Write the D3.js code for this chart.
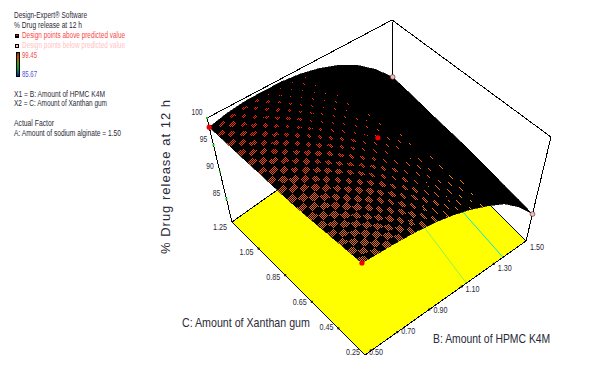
<!DOCTYPE html>
<html>
<head>
<meta charset="utf-8">
<script src="https://cdn.jsdelivr.net/npm/d3@7"></script>
<style>
  html, body { margin: 0; padding: 0; background: #fff; }
  svg { display: block; }
  text { font-family: "Liberation Sans", sans-serif; fill: #2a2a38; }
</style>
</head>
<body>
<svg width="602" height="372"></svg>
<script>
// axis ticks
let bTicks = [0.5, 0.7, 0.9, 1.1, 1.3, 1.5];
let cTicks = [0.25, 0.45, 0.65, 0.85, 1.05, 1.25];
let zTicks = [85, 90, 95, 100];

// response, rows follow bGrid, columns follow cGrid
let bGrid = [0.5, 0.6, 0.7, 0.8, 0.9, 1.0, 1.1, 1.2, 1.3, 1.4, 1.5];
let cGrid = [0.25, 0.35, 0.45, 0.55, 0.65, 0.75, 0.85, 0.95, 1.05, 1.15, 1.25];
let response = [
  [95.5, 95.6, 95.7, 95.8, 95.9, 96.1, 96.5, 96.9, 97.3, 97.8, 98.3],
  [95.6, 96.0, 96.3, 96.6, 96.9, 97.2, 97.5, 97.9, 98.2, 98.6, 99.0],
  [95.7, 96.2, 96.6, 97.0, 97.4, 97.8, 98.1, 98.5, 98.8, 99.1, 99.4],
  [95.7, 96.3, 96.8, 97.3, 97.7, 98.1, 98.5, 98.8, 99.1, 99.3, 99.45],
  [95.5, 96.2, 96.8, 97.3, 97.8, 98.2, 98.6, 98.9, 99.1, 99.3, 99.4],
  [95.0, 95.9, 96.7, 97.3, 97.8, 98.1, 98.4, 98.6, 98.8, 98.9, 99.0],
  [94.2, 95.1, 95.9, 96.5, 97.0, 97.3, 97.6, 97.8, 97.95, 98.05, 98.1],
  [93.0, 94.0, 94.8, 95.4, 95.8, 96.1, 96.3, 96.5, 96.6, 96.65, 96.7],
  [91.5, 92.4, 93.0, 93.5, 93.8, 94.1, 94.3, 94.4, 94.5, 94.55, 94.6],
  [89.0, 89.6, 90.0, 90.4, 90.7, 90.9, 91.1, 91.2, 91.3, 91.4, 91.5],
  [85.7, 85.9, 86.1, 86.4, 86.6, 86.8, 86.9, 87.0, 87.2, 87.35, 87.5]
];

// design points: b, c, response
let pointsAbove = [[0.5, 1.25, 98.3], [0.5, 0.25, 95.5], [1.0, 0.75, 98.1]];
let pointsBelow = [[1.5, 1.25, 87.5], [1.5, 0.25, 85.7]];

// contour lines on the floor
let contourGreen = [[1.13, 0.25], [1.18, 0.63]];
let contourCyan = [[1.357, 0.25], [1.376, 0.574]];

let legendHead = ["Design-Expert\u00ae Software", "% Drug release at 12 h"];
let legendAbove = "Design points above predicted value";
let legendBelow = "Design points below predicted value";
let legendMax = "99.45";
let legendMin = "85.67";
let legendFactors = ["X1 = B: Amount of HPMC K4M", "X2 = C: Amount of Xanthan gum"];
let legendActual = ["Actual Factor", "A: Amount of sodium alginate = 1.50"];
let barColors = ["#8a2a00", "#c05000", "#a07000", "#30a010", "#00a030", "#006080", "#1010c0"];

let svg = d3.select("svg");

// box corners on screen, uvw goes 0..1 along B, C, and height
let floorPts = {f: [365, 355], r: [526, 241], l: [232, 222], b: [393, 108]};
let topPts = {f: [361, 235], r: [551, 137], l: [207, 118], b: [392, 20]};

let u = d3.scaleLinear().domain([0.5, 1.5]).range([0, 1]);
let v = d3.scaleLinear().domain([0.25, 1.25]).range([0, 1]);
let w = d3.scaleLinear().domain([80.7, 100]).range([0, 1]);

function bilin(c, a, b) {
  return [0, 1].map(i => (1 - a) * (1 - b) * c.f[i] + a * (1 - b) * c.r[i] + (1 - a) * b * c.l[i] + a * b * c.b[i]);
}
function project(bv, cv, zv) {
  let a = u(bv), b = v(cv), h = w(zv);
  let p0 = bilin(floorPts, a, b), p1 = bilin(topPts, a, b);
  return [p0[0] + (p1[0] - p0[0]) * h, p0[1] + (p1[1] - p0[1]) * h];
}

let zMin = w.domain()[0];
let line = d3.line();
let closed = d3.line().curve(d3.curveLinearClosed);

// back of the box
let box = svg.append("g").attr("fill", "none").attr("stroke", "#000").attr("shape-rendering", "crispEdges");
box.append("path").attr("d", line([topPts.l, topPts.b, topPts.r, floorPts.r]));
box.append("path").attr("d", line([floorPts.l, topPts.l]));
box.append("path").attr("d", line([topPts.b, floorPts.b]));

// floor
svg.append("path")
  .attr("d", closed([project(0.5, 0.25, zMin), project(1.5, 0.25, zMin), project(1.5, 1.25, zMin), project(0.5, 1.25, zMin)]))
  .attr("fill", "#ffff00")
  .attr("stroke", "#000")
  .attr("shape-rendering", "crispEdges");

svg.append("path")
  .attr("d", line(contourGreen.map(d => project(d[0], d[1], zMin))))
  .attr("stroke", "#90f050").attr("fill", "none");
svg.append("path")
  .attr("d", line(contourCyan.map(d => project(d[0], d[1], zMin))))
  .attr("stroke", "#10e0e0").attr("fill", "none");

// surface facets
let facets = [];
for (let i = 0; i < bGrid.length - 1; i++) {
  for (let j = 0; j < cGrid.length - 1; j++) {
    facets.push({
      i: i, j: j,
      z: (response[i][j] + response[i + 1][j] + response[i][j + 1] + response[i + 1][j + 1]) / 4,
      pts: [
        project(bGrid[i], cGrid[j], response[i][j]),
        project(bGrid[i + 1], cGrid[j], response[i + 1][j]),
        project(bGrid[i + 1], cGrid[j + 1], response[i + 1][j + 1]),
        project(bGrid[i], cGrid[j + 1], response[i][j + 1])
      ]
    });
  }
}

svg.append("g").selectAll("path")
  .data(facets)
  .join("path")
  .attr("d", d => closed(d.pts))
  .attr("fill", "#000")
  .attr("stroke", "#000")
  .attr("stroke-width", 0.6)
  .attr("shape-rendering", "crispEdges");

// stippled mesh: every other sub cell of a facet gets a 1px checker of dots
let color = d3.scaleLinear()
  .domain([92.5, 94, 96, 97.5, 99])
  .range(["#ffd800", "#ff9a00", "#e8681e", "#f5480f", "#ff1a00"])
  .clamp(true);

let sub = 3;
function stipple(f) {
  let out = [];
  let quad = (s, t) => {
    let a = [0, 1].map(k => f.pts[0][k] * (1 - s) + f.pts[1][k] * s);
    let b = [0, 1].map(k => f.pts[3][k] * (1 - s) + f.pts[2][k] * s);
    return [0, 1].map(k => a[k] * (1 - t) + b[k] * t);
  };
  for (let m = 0; m < sub; m++) {
    for (let n = 0; n < sub; n++) {
      let iu = f.i * sub + m, iv = f.j * sub + n;
      if ((iu + iv) % 2) continue;
      let cu = (iu + 0.5) / (10 * sub), cv = (iv + 0.5) / (10 * sub);
      let uEnd = 0.72 - 0.2 * cv;
      if (cu > uEnd) continue;
      // patches narrow towards the back of the surface
      let wu = Math.min(1, Math.max(0.2, 1.3 - 2.0 * cu - 0.3 * cv));
      let wv = Math.min(1, Math.max(0.3, 1.4 - 0.9 * cv - 0.7 * cu));
      let p0 = quad(m / sub, n / sub), p1 = quad((m + 1) / sub, n / sub), p2 = quad(m / sub, (n + 1) / sub);
      let ax = p1[0] - p0[0], ay = p1[1] - p0[1], bx = p2[0] - p0[0], by = p2[1] - p0[1];
      let det = ax * by - ay * bx;
      if (Math.abs(det) < 1) continue;
      let xs = [p0[0], p1[0], p2[0], p1[0] + bx], ys = [p0[1], p1[1], p2[1], p1[1] + by];
      for (let x = Math.floor(d3.min(xs)); x <= d3.max(xs); x++) {
        for (let y = Math.floor(d3.min(ys)); y <= d3.max(ys); y++) {
          if ((x + y) % 2) continue;
          let dx = x + 0.5 - p0[0], dy = y + 0.5 - p0[1];
          let s = (dx * by - dy * bx) / det, t = (ax * dy - ay * dx) / det;
          if (s < 0 || t < 0 || s >= wu || t >= wv) continue;
          out.push("M" + x + "," + y + "h1v1h-1z");
        }
      }
    }
  }
  return out.join("");
}

svg.append("g").selectAll("path")
  .data(facets)
  .join("path")
  .attr("d", stipple)
  .attr("fill", d => color(d.z))
  .attr("shape-rendering", "crispEdges");

// z axis
svg.append("g").selectAll("rect")
  .data(zTicks)
  .join("rect")
  .attr("x", d => project(0.5, 1.25, d)[0] - 1)
  .attr("y", d => project(0.5, 1.25, d)[1] - 1)
  .attr("width", 2).attr("height", 2)
  .attr("fill", "#10d010");
svg.append("g").selectAll("text")
  .data(zTicks)
  .join("text")
  .attr("x", d => project(0.5, 1.25, d)[0] - 10)
  .attr("y", d => project(0.5, 1.25, d)[1] - 3)
  .attr("text-anchor", "middle")
  .attr("font-size", 9.5)
  .attr("textLength", d => d === 100 ? 11 : 7.5)
  .attr("lengthAdjust", "spacingAndGlyphs")
  .text(d => d);

// C axis, down the left side of the floor
let cFmt = d3.format(".2f");
svg.append("g").selectAll("rect")
  .data(cTicks.slice(1, -1))
  .join("rect")
  .attr("x", d => project(0.5, d, zMin)[0] - 1)
  .attr("y", d => project(0.5, d, zMin)[1] - 1)
  .attr("width", 2).attr("height", 2)
  .attr("fill", "#000");
svg.append("g").selectAll("text")
  .data(cTicks)
  .join("text")
  .attr("x", d => project(0.5, d, zMin)[0] - 12)
  .attr("y", d => project(0.5, d, zMin)[1] + 8 * v(d))
  .attr("text-anchor", "middle")
  .attr("font-size", 9)
  .attr("textLength", 14)
  .attr("lengthAdjust", "spacingAndGlyphs")
  .text(d => cFmt(d));

// B axis, along the right side of the floor
svg.append("g").selectAll("rect")
  .data(bTicks.slice(1, -1))
  .join("rect")
  .attr("x", d => project(d, 0.25, zMin)[0] - 1)
  .attr("y", d => project(d, 0.25, zMin)[1] - 1)
  .attr("width", 2).attr("height", 2)
  .attr("fill", "#000");
svg.append("g").selectAll("text")
  .data(bTicks)
  .join("text")
  .attr("x", d => project(d, 0.25, zMin)[0] + 11)
  .attr("y", d => project(d, 0.25, zMin)[1] + 9 * u(d))
  .attr("text-anchor", "middle")
  .attr("font-size", 9)
  .attr("textLength", 14)
  .attr("lengthAdjust", "spacingAndGlyphs")
  .text(d => cFmt(d));

// axis titles, squeezed sideways like the bitmap font of the original
svg.append("text")
  .attr("transform", "translate(170,254) rotate(-90)")
  .attr("font-size", 13)
  .attr("textLength", 154)
  .attr("lengthAdjust", "spacing")
  .text("% Drug release at 12 h");
svg.append("text")
  .attr("transform", "translate(182,327) scale(0.82,1)")
  .attr("font-size", 13)
  .text("C: Amount of Xanthan gum");
svg.append("text")
  .attr("transform", "translate(433,343) scale(0.8,1)")
  .attr("font-size", 13)
  .text("B: Amount of HPMC K4M");

// design points
svg.append("g").selectAll("circle")
  .data(pointsAbove)
  .join("circle")
  .attr("cx", d => project(d[0], d[1], d[2])[0])
  .attr("cy", d => project(d[0], d[1], d[2])[1])
  .attr("r", 2.6)
  .attr("fill", "#f00000");
svg.append("g").selectAll("circle")
  .data(pointsBelow)
  .join("circle")
  .attr("cx", d => project(d[0], d[1], d[2])[0])
  .attr("cy", d => project(d[0], d[1], d[2])[1])
  .attr("r", 2.4)
  .attr("fill", "#f8b8b8")
  .attr("stroke", "#402020")
  .attr("stroke-width", 0.6);

// legend
let legend = svg.append("g").attr("font-size", 8.5);
function legendText(txt, x, y, len, fill) {
  let t = legend.append("text")
    .attr("x", x).attr("y", y)
    .attr("textLength", len)
    .attr("lengthAdjust", "spacingAndGlyphs")
    .text(txt);
  if (fill) t.style("fill", fill);
}
legendText(legendHead[0], 14, 18, 73);
legendText(legendHead[1], 14, 28, 68);
legendText(legendAbove, 22, 38, 103, "#f84848");
legendText(legendBelow, 22, 48, 103, "#ffc4c4");
legendText(legendMax, 22, 58, 15, "#f05050");
legendText(legendMin, 22, 77, 15, "#5050e0");
legendText(legendFactors[0], 14, 97, 91);
legendText(legendFactors[1], 14, 106, 93);
legendText(legendActual[0], 14, 126, 40);
legendText(legendActual[1], 14, 136, 107);

legend.append("rect").attr("x", 15).attr("y", 34).attr("width", 4).attr("height", 4).attr("fill", "#000");
legend.append("rect").attr("x", 16).attr("y", 35).attr("width", 2).attr("height", 1).attr("fill", "#f01010");
legend.append("rect").attr("x", 15).attr("y", 44).attr("width", 4).attr("height", 4).attr("fill", "#000");
legend.append("rect").attr("x", 16).attr("y", 45).attr("width", 2).attr("height", 2).attr("fill", "#ffc0c0");

let grad = svg.append("defs").append("linearGradient")
  .attr("id", "bar").attr("x1", 0).attr("x2", 0).attr("y1", 0).attr("y2", 1);
grad.selectAll("stop")
  .data(barColors)
  .join("stop")
  .attr("offset", (d, i) => i / (barColors.length - 1))
  .attr("stop-color", d => d);
legend.append("rect")
  .attr("x", 16.5).attr("y", 52.5).attr("width", 3).attr("height", 24)
  .attr("fill", "url(#bar)")
  .attr("stroke", "#000");
</script>
</body>
</html>
